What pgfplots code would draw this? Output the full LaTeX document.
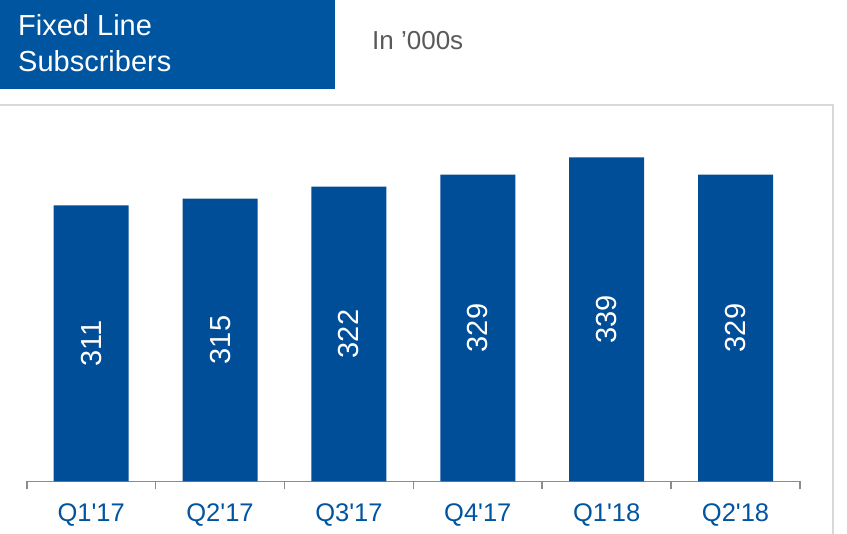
\documentclass[border=0pt]{standalone}
\usepackage{pgfplots}
\pgfplotsset{compat=1.18}
\usepackage{pgfplotstable}
\usepackage{fontspec}
\newfontfamily\arial{Liberation Sans}
\definecolor{barblue}{RGB}{0,77,152}
\definecolor{boxblue}{RGB}{0,85,160}
\definecolor{lblblue}{RGB}{0,84,160}
\definecolor{subgray}{RGB}{89,89,89}
\definecolor{framegray}{RGB}{217,217,217}
\definecolor{axisgray}{RGB}{140,140,140}
\pgfplotstableread{
x v
0 311
1 315
2 322
3 329
4 339
5 329
}\subs
\begin{document}
\begin{tikzpicture}[x=1pt,y=1pt]
% title box
\fill[boxblue] (0,534) rectangle (335,445.3);
\node[anchor=base west, inner sep=0pt, text=white, font=\arial\fontsize{29}{34}\selectfont] at (18,498) {Fixed Line};
\node[anchor=base west, inner sep=0pt, text=white, font=\arial\fontsize{29}{34}\selectfont] at (18,462.3) {Subscribers};
\node[anchor=base west, inner sep=0pt, text=subgray, font=\arial\fontsize{26}{31}\selectfont] at (372,484) {In ’000s};
% frame
\draw[framegray, line width=2pt] (0,429) -- (833,429) -- (833,0);
\begin{axis}[
  at={(26.7pt,52.5pt)}, anchor=south west,
  scale only axis, width=773.3pt, height=376.5pt,
  xmin=-0.5, xmax=5.5, ymin=150, ymax=369.6,
  hide y axis,
  axis x line*=bottom,
  x axis line style={axisgray, line width=1.6pt, -},
  xtick={0,1,2,3,4,5},
  xticklabels={Q1'17,Q2'17,Q3'17,Q4'17,Q1'18,Q2'18},
  major tick length=0pt,
  minor xtick={-0.5,0.5,1.5,2.5,3.5,4.5,5.5},
  minor tick length=8pt,
  tick align=outside,
  minor tick style={axisgray, line width=1.6pt},
  xticklabel style={anchor=base, yshift=-40pt, text=lblblue, font=\arial\fontsize{25.5}{30}\selectfont},
  clip=false,
]
\addplot[ybar, bar width=75pt, fill=barblue, draw=none] table[x=x, y=v] {\subs};
\addplot[draw=none, mark=none, nodes near coords, point meta=explicit symbolic,
  every node near coord/.style={rotate=90, anchor=center, inner sep=0pt, text=white, font=\arial\fontsize{29}{34}\selectfont},
  nodes near coords align={center}]
  table[x=x, y expr={(\thisrow{v}+150)/2}, meta=v] {\subs};
\end{axis}
\pgfresetboundingbox
\useasboundingbox (0,0) rectangle (847,534);
\end{tikzpicture}
\end{document}
